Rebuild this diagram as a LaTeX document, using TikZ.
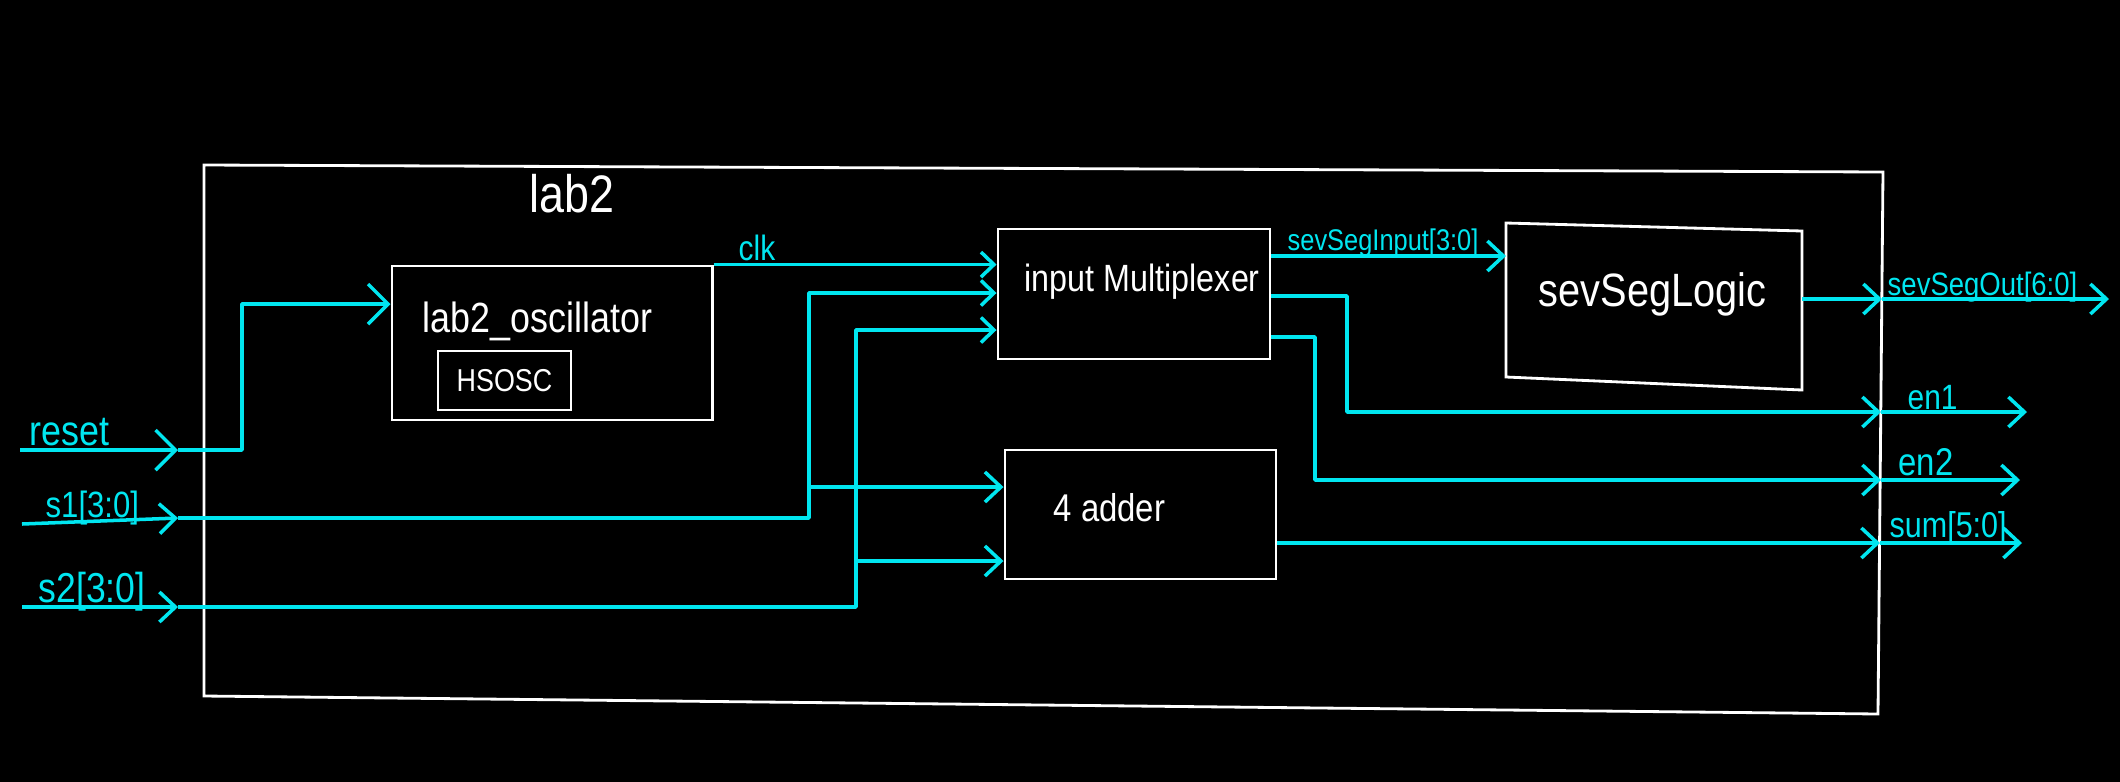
\documentclass[tikz,border=0pt]{standalone}
\usepackage{fontspec}
\setmainfont[FakeStretch=0.85]{Liberation Sans}
\usetikzlibrary{arrows.meta}
\definecolor{wirecyan}{RGB}{0,230,240}

\newcommand{\fs}[1]{\fontsize{#1}{#1}\selectfont}

\tikzset{
  block/.style={draw=white, line width=0.8pt, inner sep=0pt},
  wire/.style={draw=wirecyan, line width=1pt, line join=round},
  smalltip/.style={-{Straight Barb[length=1.3mm,width=2.5mm]}},
  bigtip/.style={-{Straight Barb[length=2mm,width=4mm]}},
  sig/.style={text=wirecyan, inner sep=0pt, anchor=base west},
  lbl/.style={text=white, inner sep=0pt, anchor=base west},
}

\begin{document}
\begin{tikzpicture}[x=0.01cm, y=-0.01cm, >={Straight Barb[length=1.6mm,width=3mm]}]

\useasboundingbox (0,0) rectangle (2120,781);
\fill[black] (-10,-10) rectangle (2130,791);

% top module
\draw[white, line width=0.8pt] (204,165) -- (1883,172) -- (1878,714) -- (204,696) -- cycle;
\node[lbl, anchor=base] (toplbl) at (572,212) {\fs{15}lab2};

% blocks
\node[block, minimum width=3.2cm, minimum height=1.54cm] (osc) at (552,343) {};
\node[lbl] (osclbl) at (422,332) {\fs{12}lab2\_oscillator};
\node[block, text=white, minimum width=1.33cm, minimum height=0.59cm] (hsosc) at (504.5,380.5) {\fs{9}HSOSC};

\node[block, minimum width=2.72cm, minimum height=1.30cm] (mux) at (1134,294) {};
\node[lbl] (muxlbl) at (1024,291) {\fs{10.8}input Multiplexer};

\node[block, minimum width=2.71cm, minimum height=1.29cm] (adder) at (1140.5,514.5) {};
\node[lbl] (addlbl) at (1053,521) {\fs{11}4 adder};

\coordinate (segNW) at (1506,223);
\coordinate (segNE) at (1802,231);
\coordinate (segSE) at (1802,390);
\coordinate (segSW) at (1506,377);
\draw[white, line width=0.8pt] (segNW) -- (segNE) -- (segSE) -- (segSW) -- cycle;
\node[lbl] (seglbl) at (1538,306) {\fs{13.3}sevSegLogic};
\coordinate (segin) at (1506,256);
\coordinate (segout) at (1802,299);

% inputs
\coordinate (rstL) at (20,450);
\coordinate (rstT) at (178,450);
\coordinate (s1L) at (22,524);
\coordinate (s1T) at (178,518);
\coordinate (s2L) at (22,607);
\coordinate (s2T) at (178,607);

\draw[wire,bigtip] (rstL) -- (rstT);
\draw[wire,bigtip] (rstT) -| (242,304) -- (osc.west |- 0,304);
\node[sig] (rstlbl) at (29,445) {\fs{12}reset};

\draw[wire,->] (s1L) -- (s1T);
\draw[wire,smalltip] (s1T) -- (809,518) |- (mux.west |- 0,293);
\draw[wire,->] (809,487) -- (adder.west |- 0,487);
\node[sig] (s1lbl) at (45,517) {\fs{10.4}s1[3:0]};

\draw[wire,->] (s2L) -- (s2T);
\draw[wire,smalltip] (s2T) -- (856,607) |- (mux.west |- 0,330);
\draw[wire,->] (856,561) -- (adder.west |- 0,561);
\node[sig] (s2lbl) at (38,602) {\fs{11.9}s2[3:0]};

% internal signals
\draw[wire,smalltip] (osc.north east) -- (mux.west |- osc.north east);
\node[sig] (clklbl) at (738,260) {\fs{10}clk};

\draw[wire,->] (mux.east |- segin) -- (segin);
\node[sig] (seginlbl) at (1287,250) {\fs{8.5}sevSegInput[3:0]};

% outputs
\coordinate (segoutE) at (1882,299);
\coordinate (segoutR) at (2109,299);
\coordinate (en1E) at (1881,412);
\coordinate (en1R) at (2027,412);
\coordinate (en2E) at (1881,480);
\coordinate (en2R) at (2020,480);
\coordinate (sumE) at (1880,543);
\coordinate (sumR) at (2022,543);

\draw[wire,->] (segout) -- (segoutE);
\draw[wire,->] (segoutE) -- (segoutR);
\node[sig] (segoutlbl) at (1887,295) {\fs{9.2}sevSegOut[6:0]};

\draw[wire,->] (mux.east |- 0,296) -| (1347,412) -- (en1E);
\draw[wire,->] (en1E) -- (en1R);
\node[sig] (en1lbl) at (1907,409) {\fs{10}en1};

\draw[wire,->] (mux.east |- 0,337) -| (1315,480) -- (en2E);
\draw[wire,->] (en2E) -- (en2R);
\node[sig] (en2lbl) at (1898,475) {\fs{11}en2};

\draw[wire,->] (adder.east |- sumE) -- (sumE);
\draw[wire,->] (sumE) -- (sumR);
\node[sig] (sumlbl) at (1889,537) {\fs{10.2}sum[5:0]};

\end{tikzpicture}
\end{document}
